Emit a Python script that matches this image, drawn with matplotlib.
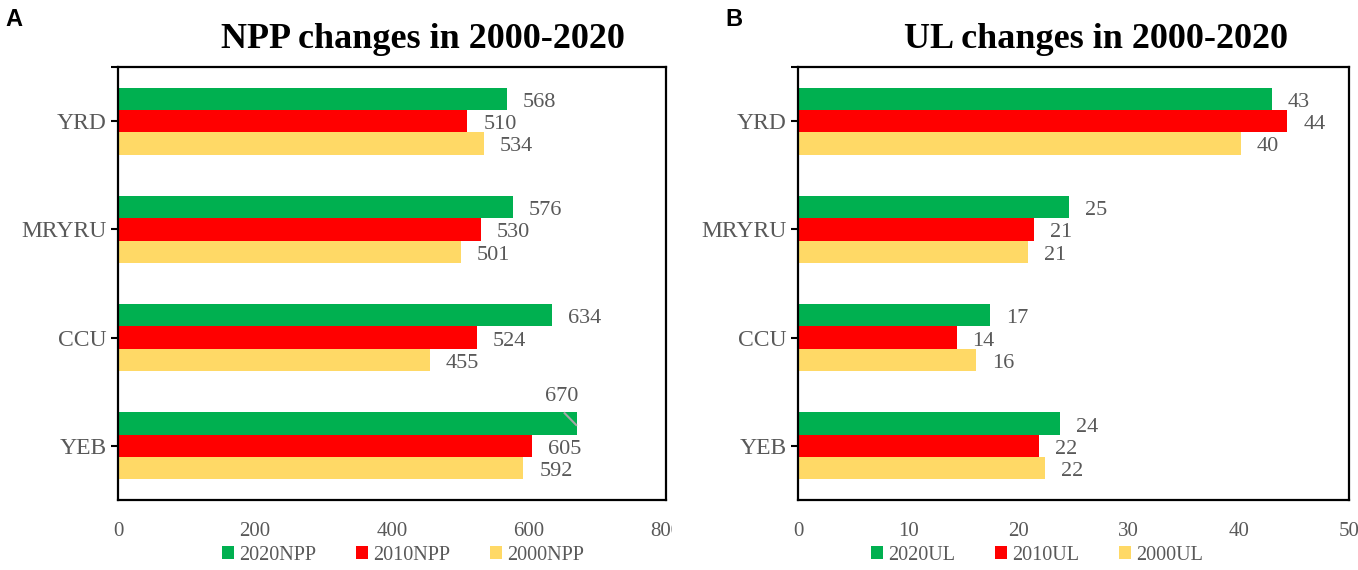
import matplotlib
matplotlib.use("Agg")
import matplotlib.pyplot as plt
from matplotlib.transforms import Bbox, TransformedBbox
import numpy as np

# data (top-to-bottom order as in the figure)
regions = ["YRD", "MRYRU", "CCU", "YEB"]

npp_2020 = [568, 576, 634, 670]
npp_2010 = [510, 530, 524, 605]
npp_2000 = [534, 501, 455, 592]

ul_2020 = [43.0, 24.6, 17.4, 23.8]
ul_2010 = [44.4, 21.4, 14.4, 21.9]
ul_2000 = [40.2, 20.9, 16.2, 22.4]

colors = ["#00B050", "#FF0000", "#FFD966"]
grey = "#595959"
serif = ["Liberation Serif", "DejaVu Serif"]

fig = plt.figure(figsize=(13.58, 5.70), dpi=100)
ax_a = fig.add_axes([0.0869, 0.1228, 0.4035, 0.7596])
ax_b = fig.add_axes([0.5876, 0.1228, 0.4057, 0.7596])


def draw_panel(ax, series, labels, xmax, xticks, title, title_x, leg_x):
    y = np.arange(len(regions))[::-1]
    h = 0.206
    offsets = [h, 0, -h]
    bars = []
    for vals, off, col, lab in zip(series, offsets, colors, labels):
        b = ax.barh(y + off, vals, height=h, color=col, label=lab, linewidth=0)
        bars.append(b)
    ax.set_xlim(0, xmax)
    ax.set_ylim(-0.5, len(regions) - 0.5)
    ax.set_yticks(y)
    ax.set_yticklabels(regions, fontfamily=serif, fontsize=17, color=grey)
    ax.set_yticks([len(regions) - 0.5], minor=True)
    ax.tick_params(axis="y", which="both", direction="out", length=5, width=1.5, pad=3)
    ax.set_xticks(xticks)
    ax.set_xticklabels([str(t) for t in xticks], fontfamily=serif, fontsize=15, color=grey)
    ax.tick_params(axis="x", length=0, pad=16)
    for s in ax.spines.values():
        s.set_linewidth(1.6)
        s.set_color("black")
    fig.text(title_x, 0.93, title, ha="center", va="center", fontfamily=serif,
             fontsize=26, fontweight="bold")
    fig.legend(handles=bars, labels=labels, loc="center", bbox_to_anchor=(leg_x, 0.026),
               ncol=3, frameon=False, prop={"family": serif, "size": 14.5},
               handlelength=0.6, handleheight=0.6, handletextpad=0.25,
               columnspacing=2.0, labelcolor=grey)
    return bars


bars_a = draw_panel(ax_a, [npp_2020, npp_2010, npp_2000], ["2020NPP", "2010NPP", "2000NPP"],
                    800, [0, 200, 400, 600, 800], "NPP changes in 2000-2020", 0.3115, 0.2967)
bars_b = draw_panel(ax_b, [ul_2020, ul_2010, ul_2000], ["2020UL", "2010UL", "2000UL"],
                    50, [0, 10, 20, 30, 40, 50], "UL changes in 2000-2020", 0.807, 0.7636)

# data labels
for ax, bars in [(ax_a, bars_a), (ax_b, bars_b)]:
    for b in bars:
        for rect in b:
            val = rect.get_width()
            yc = rect.get_y() + rect.get_height() / 2
            if ax is ax_a and b is bars_a[0] and val == max(npp_2020):
                # label pushed above the bar with a grey leader line
                top = rect.get_y() + rect.get_height()
                ax.text(val - 22, top + 0.15, f"{val:.0f}", ha="center", va="center",
                        fontfamily=serif, fontsize=16, color=grey)
                ax.plot([val - 19, val], [top, yc - 0.02], color="#A6A6A6", lw=1.5,
                        solid_capstyle="butt")
                continue
            ax.annotate(f"{val:.0f}", xy=(val, yc), xytext=(11.5, -2.5), textcoords="offset points",
                        ha="left", va="center", fontfamily=serif, fontsize=16, color=grey)

# the last tick label of panel A is cut at the panel edge
clip = TransformedBbox(Bbox.from_extents(0, 0, 672 / 1358, 1), fig.transFigure)
lbl = ax_a.get_xticklabels()[-1]
lbl.set_clip_on(True)
lbl.set_clip_box(clip)

fig.text(0.004, 0.965, "A", fontsize=17, fontweight="bold", fontfamily="Liberation Sans",
         va="center")
fig.text(0.534, 0.965, "B", fontsize=17, fontweight="bold", fontfamily="Liberation Sans",
         va="center")

fig.savefig("out.png", dpi=100)
